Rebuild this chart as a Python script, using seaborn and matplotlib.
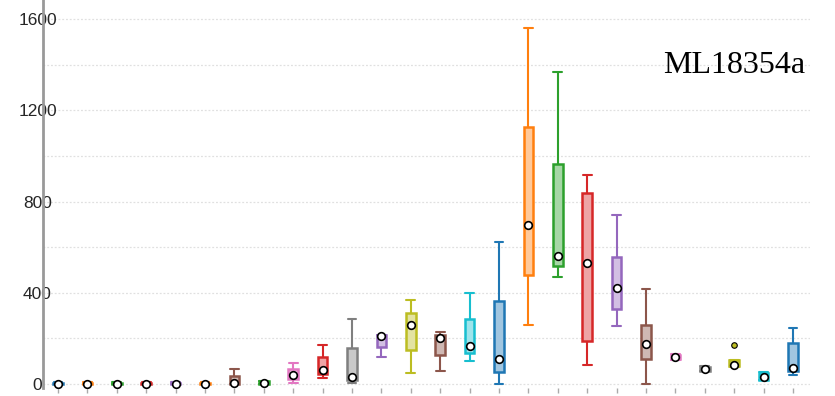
import numpy as np
import pandas as pd
import matplotlib
matplotlib.use("Agg")
import matplotlib.pyplot as plt
import matplotlib.colors as mcolors
import seaborn as sns

# --- values (one entry per box, left to right)
cats = [f"s{i:02d}" for i in range(1, 27)]
whis_lo = [0, 0, 0, 0, 0, 0, 0, 0, 6, 28, 6, 117, 47, 56, 102, 0, 259, 470, 85, 256, 0, 105, 57, 76, 18, 41]
q1 = [0, 0, 0, 0, 0, 0, 0, 0, 22, 45, 18, 162, 150, 127, 135, 51, 478, 519, 190, 327, 108, 108, 59, 76, 20, 56]
median = [2, 2, 2, 2, 2, 2, 4, 6, 38, 63, 32, 209, 257, 202, 167, 108, 697, 563, 532, 422, 175, 118, 67, 83, 31, 72]
q3 = [7, 7, 7, 7, 7, 7, 35, 14, 65, 117, 158, 215, 313, 215, 284, 365, 1128, 965, 839, 555, 259, 128, 77, 104, 49, 178]
whis_hi = [8, 8, 8, 8, 8, 8, 67, 15, 93, 171, 285, 215, 368, 229, 400, 624, 1561, 1369, 916, 741, 416, 131, 79, 104, 51, 245]
outliers = {"s24": [171]}

colors = ["#1f77b4", "#ff7f0e", "#2ca02c", "#d62728", "#9467bd", "#ff7f0e",
          "#8c564b", "#2ca02c", "#e377c2", "#d62728", "#7f7f7f", "#9467bd",
          "#bcbd22", "#8c564b", "#17becf", "#1f77b4", "#ff7f0e", "#2ca02c",
          "#d62728", "#9467bd", "#8c564b", "#e377c2", "#7f7f7f", "#bcbd22",
          "#17becf", "#1f77b4"]

# build 5-point samples so the quartiles come out as read
rows = []
for i, c in enumerate(cats):
    for v in [whis_lo[i], q1[i], median[i], q3[i], whis_hi[i]] + outliers.get(c, []):
        rows.append((c, v))
df = pd.DataFrame(rows, columns=["cat", "value"])
med_df = pd.DataFrame({"cat": cats, "median": median})

sns.set_style("white")
plt.rcParams["font.family"] = ["Liberation Sans", "DejaVu Sans"]

fig = plt.figure(figsize=(8.35, 3.96), dpi=100)
ax = fig.add_axes([43 / 835, 8 / 396, (810 - 43) / 835, 388 / 396])

sns.boxplot(data=df, x="cat", y="value", hue="cat", order=cats, hue_order=cats,
            palette=colors, width=0.33, whis=1.5, linewidth=1.5, fliersize=4,
            saturation=1, legend=False, capwidths=0.3, ax=ax)

# box faces light, edges/whiskers saturated
for cont, col in zip(ax.containers, colors):
    rgb = mcolors.to_rgb(col)
    light = tuple(1 - 0.42 * (1 - x) for x in rgb)
    for b in cont.boxes:
        b.set_facecolor(light)
        b.set_edgecolor(col)
        b.set_linewidth(1.8)
    for ln in list(cont.whiskers) + list(cont.caps):
        ln.set_color(col)
        ln.set_linewidth(1.5)
    for ln in cont.medians:
        ln.set_visible(False)
    for ln in cont.fliers:
        ln.set_markerfacecolor(col)
        ln.set_markeredgecolor("black")
        ln.set_markeredgewidth(0.8)
        ln.set_marker("o")
        ln.set_markersize(4)

sns.stripplot(data=med_df, x="cat", y="median", order=cats, jitter=False,
              color="white", edgecolor="black", linewidth=1.2, size=5.5,
              zorder=6, ax=ax)

ax.set_ylim(-17, 1683)
ax.set_xlim(-0.51, 25.58)
ax.set_yticks([0, 400, 800, 1200, 1600])
ax.set_yticks(np.arange(0, 1601, 200), minor=True)
ax.grid(axis="y", which="both", linestyle=(0, (1.5, 1.5)), color="#e0e0e0", linewidth=0.9, zorder=0)
ax.set_axisbelow(True)
ax.set_xlabel("")
ax.set_ylabel("")
ax.set_xticklabels([])
ax.tick_params(axis="x", bottom=True, length=3.5, width=1, color="#aaaaaa", direction="out", pad=0)
ax.tick_params(axis="y", which="both", length=0, pad=4, labelsize=12.5)
for lab in ax.get_yticklabels():
    lab.set_horizontalalignment("center")

for s in ["top", "right", "bottom"]:
    ax.spines[s].set_visible(False)
ax.spines["left"].set_color("#999999")
ax.spines["left"].set_linewidth(2)
ax.spines["left"].set_zorder(1)

ax.text(0.9935, 0.812, "ML18354a", transform=ax.transAxes, ha="right", va="baseline",
        fontsize=23, family="Liberation Serif", color="black")

fig.savefig("out.png", dpi=100)
